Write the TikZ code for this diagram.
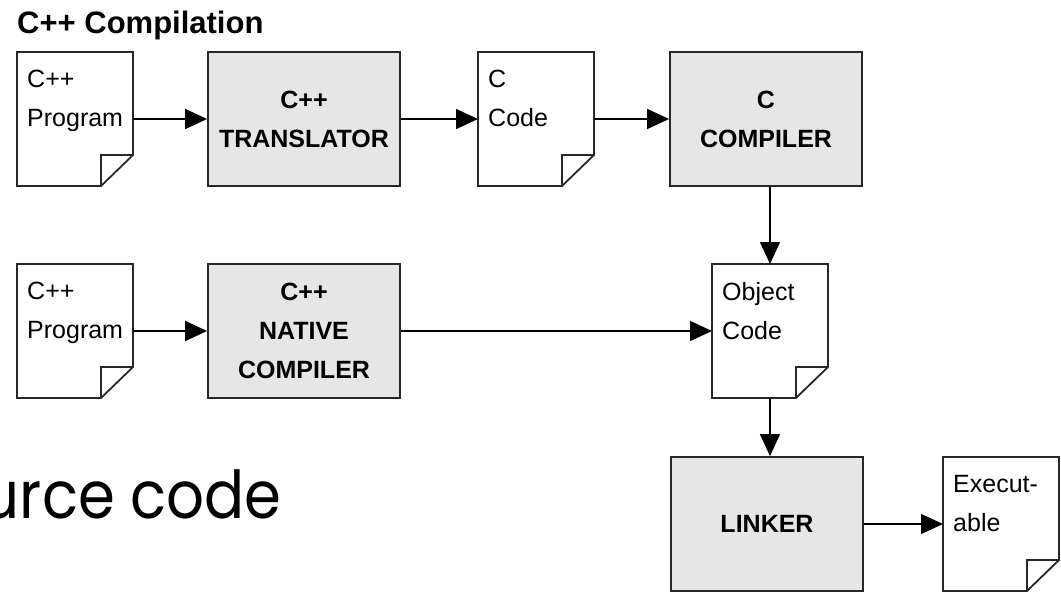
\documentclass[tikz,border=0pt]{standalone}
\usepackage{fontspec}
\usepackage{graphicx}
\setmainfont{Liberation Sans}
\newfontfamily\srcfont{Poppins}
\usetikzlibrary{arrows.meta}

\definecolor{boxgray}{RGB}{230,230,230}
\definecolor{linegray}{RGB}{40,40,40}
\newcommand{\diagfont}{\fontsize{25}{39}\selectfont}
\newcommand{\titlefont}{\bfseries\fontsize{31}{34}\selectfont}

\tikzstyle{doc} = [rectangle,fill=white,minimum width=116pt,minimum height=134pt,inner sep=0pt,outer sep=0pt]
\tikzstyle{docline} = [draw=linegray,line width=1.8pt,line join=miter]
\tikzstyle{doctext} = [anchor=north west,align=left,inner sep=0pt,font=\diagfont]
\tikzstyle{proc} = [rectangle,draw=linegray,fill=boxgray,line width=1.8pt,minimum width=192pt,minimum height=134pt,align=center,font=\diagfont\bfseries]
\tikzstyle{flow} = [draw=black,line width=1.5pt,-{Triangle[length=22pt,width=20pt]}]

\begin{document}
\begin{tikzpicture}[x=1pt,y=-1pt]
      \useasboundingbox[fill=white] (0,0) rectangle (1061,594);
      %% title and slide text
      \node[font=\titlefont,anchor=base west,inner sep=0pt] (title) at (17,34) {C++ Compilation};
      \node[font=\srcfont\fontsize{66}{70}\selectfont,anchor=base east,inner sep=0pt] (srctxt) at (282,518) {\scalebox{0.9}[1]{urce code}};

      %% process boxes
      \foreach \nodename/\x/\y/\txt in {
        trans/304/119/{C++\\TRANSLATOR},
        ccomp/766/119/{C\\COMPILER},
        native/304/331/{C++\\NATIVE\\COMPILER},
        linker/767/524/{LINKER}}
      {
        \node[proc] (\nodename) at (\x,\y) {\txt};
      }

      %% documents
      \foreach \nodename/\x/\y/\txt in {
        prog/75/119/{C++\\Program},
        ccode/536/119/{C\\Code},
        progb/75/331/{C++\\Program},
        obj/770/331/{Object\\Code},
        exe/1001/524/{Execut-\\able}}
      {
        \node[doc] (\nodename) at (\x,\y) {};
        \draw[docline] (\nodename.north west) -- (\nodename.north east) -- ([yshift=31pt]\nodename.south east)
          -- ([xshift=-32pt]\nodename.south east) -- (\nodename.south west) -- cycle;
        \draw[docline] ([xshift=-32pt]\nodename.south east) -- ([xshift=-32pt,yshift=31pt]\nodename.south east)
          -- ([yshift=31pt]\nodename.south east);
        \node[doctext] (\nodename txt) at ([xshift=10pt,yshift=-18pt]\nodename.north west) {\txt};
      }

      % edges
      \path
      \foreach \startnode/\endnode in {
        prog/trans, trans/ccode, ccode/ccomp, progb/native, native/obj, linker/exe}
      {
        (\startnode) edge[flow] (\endnode)
      };
      \draw[flow] (obj.north |- ccomp.south) -- (obj.north);
      \draw[flow] (obj.south) -- (obj.south |- linker.north);
    \end{tikzpicture}
\end{document}
